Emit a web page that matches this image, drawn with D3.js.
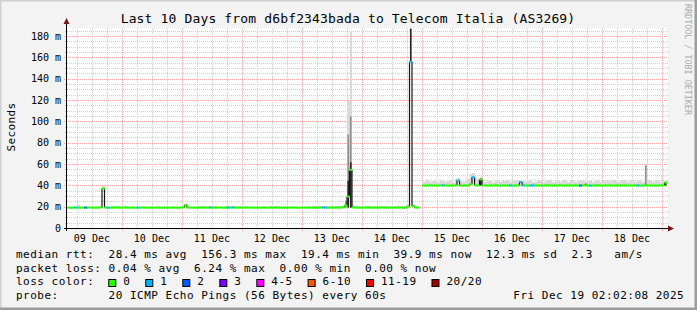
<!DOCTYPE html>
<html lang="en">
<head>
<meta charset="UTF-8">
<title>Last 10 Days from d6bf2343bada to Telecom Italia (AS3269)</title>
<script src="https://d3js.org/d3.v7.min.js"></script>
<style>
    body { margin: 0; padding: 0; background: #f3f3f3; }
    svg { display: block; }
    text { font-family: "DejaVu Sans Mono", monospace; fill: #000; white-space: pre; }
    .grid-minor { stroke: #cfcfcf; stroke-dasharray: 1,1; }
    .grid-major { stroke: #f2a8a8; stroke-dasharray: 1,1; }
</style>
</head>
<body>
<div id="chart"></div>
<script>
// ---- data (one value per hour, starting Tue Dec 9 02:02:08) ----
const startTime = new Date(Date.UTC(2025, 11, 9, 2, 2, 8));
const endTime = new Date(Date.UTC(2025, 11, 19, 2, 2, 8));

// median rtt in ms
const median = [
    19.6,19.5,19.6,19.7,19.6,19.5,19.6,19.6,19.7,19.6,
    19.5,19.6,19.6,19.8,37.5,19.6,19.5,19.6,19.6,19.7,
    19.6,19.5,19.6,19.6,19.7,19.6,19.6,19.5,19.6,19.6,
    19.7,19.6,19.5,19.6,19.6,19.6,19.7,19.6,19.5,19.6,
    19.6,19.6,19.7,19.6,19.5,19.6,19.8,22.0,19.7,19.6,
    19.6,19.5,19.6,19.6,19.7,19.6,19.5,19.6,19.6,19.6,
    19.7,19.6,19.5,19.6,19.6,19.6,19.7,19.6,19.5,19.6,
    19.6,19.6,19.7,19.6,19.5,19.6,19.6,19.6,19.7,19.6,
    19.5,19.6,19.6,19.6,19.7,19.6,19.5,19.6,19.6,19.6,
    19.7,19.6,19.5,19.6,19.6,19.6,19.7,19.6,19.5,19.6,
    19.6,19.6,19.7,19.6,19.5,19.6,19.6,19.6,19.7,19.6,
    19.8,21.5,30.0,55.0,19.8,19.6,19.6,19.5,19.6,19.6,
    19.7,19.6,19.5,19.6,19.6,19.6,19.7,19.6,19.5,19.6,
    19.6,19.6,19.7,19.6,19.5,19.6,20.5,156.3,21.0,19.7,
    19.6,null,40.3,40.2,40.3,40.4,40.3,40.2,40.3,40.3,
    40.4,40.3,40.2,40.3,40.3,40.4,45.0,40.3,40.2,40.3,
    40.3,41.5,48.0,40.5,40.3,46.0,40.4,40.3,40.2,40.3,
    40.3,40.4,40.3,40.2,40.3,40.3,40.4,40.3,40.2,40.3,
    40.3,43.5,40.4,40.3,40.2,40.3,40.3,40.4,40.3,40.2,
    40.3,40.3,40.4,40.3,40.2,40.3,40.3,40.4,40.3,40.2,
    40.3,40.3,40.4,40.3,40.2,40.3,40.3,40.6,40.3,40.2,
    40.3,40.3,40.4,40.3,40.2,40.3,40.3,40.4,40.3,40.2,
    40.3,40.3,40.4,40.3,40.2,40.3,40.3,40.4,40.3,40.2,
    40.3,40.5,40.4,40.3,40.2,40.3,40.3,40.4,40.3,43.0
];

// highest ping of each hour (light smoke top), ms
const smokeHi = [
    20.3,20.4,20.2,20.5,21.6,21.4,20.3,20.4,20.6,20.3,
    20.4,20.3,20.5,20.8,40.0,20.6,20.4,20.5,21.2,21.0,
    21.3,20.9,21.1,20.8,20.4,20.3,20.5,20.4,20.6,20.3,
    20.4,20.3,20.5,20.4,20.3,20.6,20.4,20.3,20.5,20.4,
    20.3,20.5,20.4,20.6,20.3,20.4,20.9,23.0,20.6,20.4,
    20.5,20.4,20.8,21.3,21.0,21.4,20.9,21.2,21.0,20.7,
    20.5,20.4,20.6,21.2,21.0,21.3,21.1,20.9,21.2,20.8,
    21.0,20.6,20.4,20.5,20.3,20.4,20.6,20.4,20.3,20.5,
    20.4,21.0,21.2,20.8,20.5,20.4,20.3,20.5,20.4,20.6,
    20.4,20.3,20.5,20.4,20.6,20.3,20.4,20.5,20.9,21.1,
    21.2,20.8,21.0,21.3,20.9,21.1,20.7,21.0,21.4,21.2,
    21.5,26.0,120.0,184.0,22.0,21.0,20.8,21.2,20.9,21.1,
    20.8,21.0,21.2,20.9,21.1,20.7,21.0,20.8,21.2,20.9,
    21.0,20.8,21.1,20.9,21.3,21.0,22.5,188.0,23.0,21.0,
    20.6,null,44.0,45.2,44.1,43.5,45.0,44.2,43.8,45.5,
    44.3,43.6,44.8,45.6,44.0,46.5,47.0,44.2,43.9,45.1,
    46.0,51.0,52.0,47.5,46.8,48.5,44.6,43.8,45.0,44.3,
    43.9,45.2,44.5,43.6,44.8,45.4,44.1,43.7,45.0,44.2,
    45.3,45.0,44.2,43.5,44.9,45.6,44.0,43.8,45.1,44.4,
    43.7,44.9,45.5,44.2,43.6,45.0,44.3,43.9,45.4,44.6,
    43.8,45.2,44.5,43.7,44.9,45.6,44.1,43.8,45.0,44.3,
    43.9,45.3,44.6,43.5,44.8,45.5,44.2,43.9,45.1,44.4,
    43.7,45.0,45.6,44.3,43.8,45.2,44.5,43.6,44.9,45.4,
    44.0,60.0,45.1,44.2,43.8,45.3,44.6,43.9,45.0,45.5
];

// hours with lost pings: [hour index, pings lost out of 20]
const lossHours = [
    [3,1],[7,2],[16,1],[28,1],[57,1],[64,1],[66,1],[102,1],[103,1],[137,1],
    [150,1],[156,1],[162,1],[177,1],[181,1],[182,1],[185,1],[186,1],[205,2],[209,1],[228,1]
];

// dense smoke around the spikes: [hour index, low ms, high ms, shade]
const smokeCore = [
    [111, 19.6, 26, "mid"],
    [112, 19.6, 88, "mid"],
    [113, 19.6, 105, "mid"],
    [112, 19.6, 45, "dark"],
    [113, 19.6, 62, "dark"],
    [137, 156.3, 190, "dark"],
    [165, 40.3, 47, "dark"],
    [207, 40.3, 42, "dark"],
    [231, 40.5, 59, "mid"],
    [239, 40.3, 43, "dark"]
];

const yTicks = [0, 20, 40, 60, 80, 100, 120, 140, 160, 180];
const dayLabels = ["09 Dec", "10 Dec", "11 Dec", "12 Dec", "13 Dec", "14 Dec", "15 Dec", "16 Dec", "17 Dec", "18 Dec"];

const lossLabels = ["0", "1", "2", "3", "4-5", "6-10", "11-19", "20/20"];
const lossColors = ["#26ff00", "#00b8ff", "#0059ff", "#7e00ff", "#ff00ff", "#ff5500", "#ff0000", "#a10000"];

const legendRows = [
    "median rtt:  28.4 ms avg  156.3 ms max  19.4 ms min  39.9 ms now  12.3 ms sd  2.3   am/s",
    "packet loss: 0.04 % avg  6.24 % max  0.00 % min  0.00 % now",
    "loss color:",
    "probe:       20 ICMP Echo Pings (56 Bytes) every 60s"
];
const stamp = "Fri Dec 19 02:02:08 2025";

// ---- drawing ----
const width = 697, height = 310;
const plotLeft = 67, plotRight = 667, plotBottom = 228, plotTop = 28;

const svg = d3.select("#chart").append("svg")
    .attr("width", width)
    .attr("height", height);

// canvas + 3d border
svg.append("rect").attr("width", width).attr("height", height).attr("fill", "#f3f3f3");
svg.append("path").attr("d", `M0,${height} V0 H${width}`).attr("fill", "none")
    .attr("stroke", "#cfcfcf").attr("stroke-width", 3);
svg.append("path").attr("d", `M0,${height} H${width} V0`).attr("fill", "none")
    .attr("stroke", "#9c9c9c").attr("stroke-width", 5);

const x = d3.scaleTime().domain([startTime, endTime]).range([plotLeft, plotRight]);
const y = d3.scaleLinear().domain([0, 187.5]).range([plotBottom + 0.5, plotTop + 0.5]);
const hourTime = i => d3.utcHour.offset(startTime, i);
const crisp = v => Math.round(v) + 0.5;

// plot area
svg.append("rect").attr("x", plotLeft).attr("y", plotTop)
    .attr("width", plotRight - plotLeft + 1).attr("height", plotBottom - plotTop)
    .attr("fill", "#ffffff");

// grid
const grid = svg.append("g");
const minorY = d3.range(0, 187.5, 5).filter(v => v % 20 !== 0);
grid.selectAll(".gy").data(minorY).enter().append("line")
    .attr("class", "grid-minor")
    .attr("x1", plotLeft - 2).attr("x2", plotRight + 1)
    .attr("y1", d => crisp(y(d) - 0.5)).attr("y2", d => crisp(y(d) - 0.5));
grid.selectAll(".gyM").data(yTicks.filter(v => v > 0)).enter().append("line")
    .attr("class", "grid-major")
    .attr("x1", plotLeft - 3).attr("x2", plotRight + 1)
    .attr("y1", d => crisp(y(d) - 0.5)).attr("y2", d => crisp(y(d) - 0.5));

const sixHours = d3.utcHour.every(6).range(startTime, endTime).filter(d => d.getUTCHours() !== 0);
grid.selectAll(".gx").data(sixHours).enter().append("line")
    .attr("class", "grid-minor")
    .attr("y1", plotTop).attr("y2", plotBottom + 2)
    .attr("x1", d => crisp(x(d))).attr("x2", d => crisp(x(d)));
const midnights = d3.utcDay.range(startTime, endTime);
grid.selectAll(".gxM").data(midnights).enter().append("line")
    .attr("class", "grid-major")
    .attr("y1", plotTop).attr("y2", plotBottom + 3)
    .attr("x1", d => crisp(x(d))).attr("x2", d => crisp(x(d)));

// smoke
const plot = svg.append("g");
const hours = d3.range(median.length);
const capped = v => Math.min(v, 187.5);
plot.selectAll(".smoke").data(hours.filter(i => smokeHi[i] != null)).enter().append("rect")
    .attr("x", i => x(hourTime(i)))
    .attr("width", i => x(hourTime(i + 1)) - x(hourTime(i)))
    .attr("y", i => y(capped(smokeHi[i])))
    .attr("height", i => y(median[i]) - y(capped(smokeHi[i])))
    .attr("fill", "#d9d9d9")
    .attr("shape-rendering", "crispEdges");

const shade = { mid: "#8e8e8e", dark: "#262626" };
plot.selectAll(".core").data(smokeCore).enter().append("rect")
    .attr("x", d => (x(hourTime(d[0])) + x(hourTime(d[0] + 1))) / 2 - 0.8)
    .attr("width", 1.6)
    .attr("y", d => y(capped(d[2])))
    .attr("height", d => y(d[1]) - y(capped(d[2])))
    .attr("fill", d => shade[d[3]]);

// median line, coloured by loss
const lossMap = new Map(lossHours);
const lossColor = n => {
    if (!n) return lossColors[0];
    if (n <= 3) return lossColors[n];
    if (n <= 5) return lossColors[4];
    if (n <= 10) return lossColors[5];
    if (n < 20) return lossColors[6];
    return lossColors[7];
};
const steps = hours.filter(i => median[i] != null);
plot.selectAll(".riser").data(steps.filter(i => median[i + 1] != null && median[i + 1] !== median[i]))
    .enter().append("line")
    .attr("x1", i => x(hourTime(i + 1))).attr("x2", i => x(hourTime(i + 1)))
    .attr("y1", i => y(median[i])).attr("y2", i => y(median[i + 1]))
    .attr("stroke", "#141414").attr("stroke-width", 1.2);
plot.selectAll(".med").data(steps).enter().append("line")
    .attr("x1", i => x(hourTime(i)) - 0.3).attr("x2", i => x(hourTime(i + 1)) + 0.3)
    .attr("y1", i => y(median[i])).attr("y2", i => y(median[i]))
    .attr("stroke", i => lossColor(lossMap.get(i)))
    .attr("stroke-width", 2);

// axes
const axisCol = "#7a1515";
svg.append("line").attr("x1", plotLeft - 0.5).attr("x2", plotLeft - 0.5)
    .attr("y1", plotBottom + 3).attr("y2", plotTop - 5)
    .attr("stroke", "#000");
svg.append("path").attr("d", `M${plotLeft - 3.5},${plotTop - 4} L${plotLeft - 0.5},${plotTop - 10} L${plotLeft + 2.5},${plotTop - 4} Z`)
    .attr("fill", axisCol);
svg.append("line").attr("x1", plotLeft - 3).attr("x2", plotRight + 2)
    .attr("y1", plotBottom + 0.5).attr("y2", plotBottom + 0.5)
    .attr("stroke", "#000");
svg.append("path").attr("d", `M${plotRight + 1},${plotBottom - 2.5} L${plotRight + 7},${plotBottom + 0.5} L${plotRight + 1},${plotBottom + 3.5} Z`)
    .attr("fill", axisCol);

// y labels
svg.selectAll(".ylab").data(yTicks).enter().append("text")
    .attr("x", 61).attr("y", d => y(d) + 3.3)
    .attr("text-anchor", "end")
    .attr("font-size", "10px")
    .text(d => d === 0 ? "0" : d + " m");

// x labels at noon
svg.selectAll(".xlab").data(dayLabels).enter().append("text")
    .attr("x", (d, i) => x(d3.utcHour.offset(d3.utcDay.offset(d3.utcDay.floor(startTime), i), 12)))
    .attr("y", 242)
    .attr("text-anchor", "middle")
    .attr("font-size", "10px")
    .text(d => d);

// titles
svg.append("text").attr("x", 348).attr("y", 23)
    .attr("text-anchor", "middle")
    .attr("font-size", "13px")
    .attr("letter-spacing", "0.15px")
    .text("Last 10 Days from d6bf2343bada to Telecom Italia (AS3269)");
svg.append("text").attr("transform", "translate(14.5,127) rotate(-90)")
    .attr("text-anchor", "middle")
    .attr("font-size", "11px")
    .attr("letter-spacing", "0.4px")
    .text("Seconds");
svg.append("text").attr("transform", "translate(685,4) rotate(90)")
    .attr("font-size", "8.4px")
    .style("fill", "#ababab")
    .text("RRDTOOL / TOBI OETIKER");

// legend
const rowY = [258, 271.5, 285, 298.5];
const charW = 7.12;
svg.selectAll(".leg").data(legendRows).enter().append("text")
    .attr("x", 16).attr("y", (d, i) => rowY[i])
    .attr("font-size", "11px")
    .attr("letter-spacing", "0.5px")
    .text(d => d);
svg.append("text").attr("x", 513.3).attr("y", rowY[3])
    .attr("font-size", "11px")
    .attr("letter-spacing", "0.5px")
    .text(stamp);

let lx = 16 + 13 * charW - 0.3;
lossLabels.forEach((lab, i) => {
    svg.append("rect").attr("x", lx + 0.5).attr("y", rowY[2] - 5.5)
        .attr("width", 7).attr("height", 7)
        .attr("fill", lossColors[i]).attr("stroke", "#000");
    svg.append("text").attr("x", lx + 15).attr("y", rowY[2])
        .attr("font-size", "11px")
        .attr("letter-spacing", "0.5px")
        .text(lab);
    lx = lx + 15 + lab.length * charW + 14.9;
});
</script>
</body>
</html>
